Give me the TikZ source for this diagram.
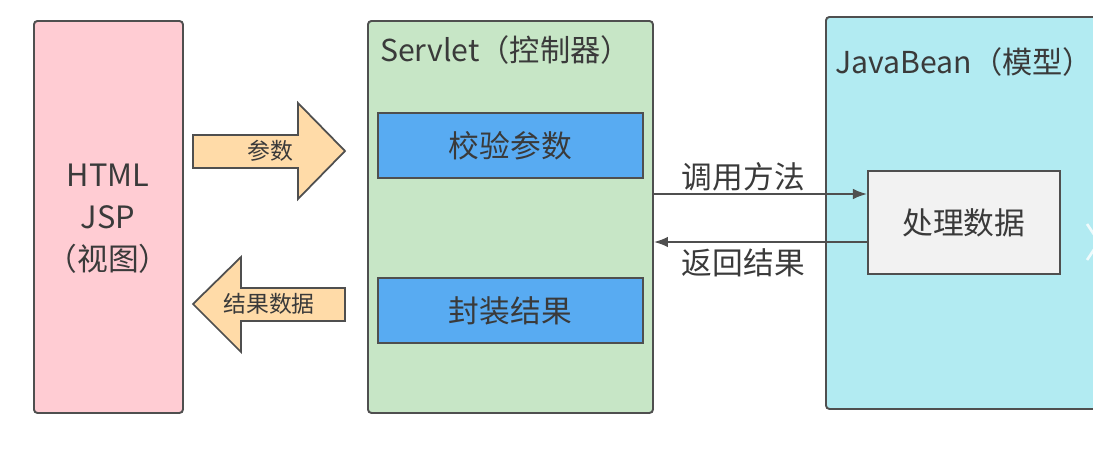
\documentclass[tikz,border=0pt]{standalone}
\usepackage{fontspec}
\setmainfont{Noto Sans CJK SC}
\usetikzlibrary{positioning}

\definecolor{viewpink}{HTML}{FFCCD3}
\definecolor{ctrlgreen}{HTML}{C7E6C6}
\definecolor{stepblue}{HTML}{58ABF2}
\definecolor{modelcyan}{HTML}{B2EBF2}
\definecolor{procgray}{HTML}{F2F2F2}
\definecolor{flowpeach}{HTML}{FFDBA8}
\definecolor{edgegray}{HTML}{4F4F4F}
\definecolor{textgray}{HTML}{3A3A3A}

\tikzset{
  box/.style={draw=edgegray, line width=1.1pt, rounded corners=2pt, anchor=north west, inner sep=0pt},
  stepbox/.style={draw=edgegray, line width=1pt, fill=stepblue, anchor=north west, inner sep=0pt,
    minimum width=265*0.02cm, minimum height=65*0.02cm, font=\fontsize{17.5}{20}\selectfont, text=textgray},
  flow/.style={draw=edgegray, line width=1pt, fill=flowpeach, line join=miter},
  callline/.style={draw=edgegray, line width=1pt, -{Latex[length=8pt,width=6pt]}},
  big/.style={font=\fontsize{17.5}{21}\selectfont, text=textgray},
  small/.style={font=\fontsize{13}{15}\selectfont, text=textgray}
}
\usetikzlibrary{arrows.meta}

\begin{document}
\begin{tikzpicture}[x=0.02cm,y=-0.02cm]
            \useasboundingbox (0,0) rectangle (1093,450);
            \clip (0,0) rectangle (1093,450);
            % Vista
            \node[box, fill=viewpink, minimum width=149*0.02cm, minimum height=392*0.02cm] (view) at (33,20) {};
            \node[big, align=center] (viewtext) at (108,219) {HTML\\[3pt]JSP\\[3pt]（视图）};
            % Controlador
            \node[box, fill=ctrlgreen, minimum width=285*0.02cm, minimum height=392*0.02cm] (ctrl) at (367,20) {};
            \node[big, anchor=west, font=\fontsize{17.2}{20}\selectfont] (ctrltitle) at (374,50) {Servlet（控制器）};
            \node[stepbox] (check) at (377,112) {校验参数};
            \node[stepbox] (pack) at (377,277) {封装结果};
            % Modelo
            \node[box, fill=modelcyan, minimum width=300*0.02cm, minimum height=392*0.02cm] (model) at (825,16) {};
            \node[big, anchor=west, font=\fontsize{17.2}{20}\selectfont] (modeltitle) at (829,62) {JavaBean（模型）};
            \node[box, rounded corners=0pt, fill=procgray, minimum width=192*0.02cm, minimum height=103*0.02cm] (proc) at (867,170) {};
            \node[big] (proctext) at (proc.center) {处理数据};
            \draw[white, line width=1.5pt, opacity=0.8] (1087,224) -- (1099,242) -- (1087,260);
            % Flechas gruesas
            \draw[flow] (193,135) -- (298,135) -- (298,103) -- (345,151) -- (298,199) -- (298,168) -- (193,168) -- cycle;
            \node[small] (params) at (270,151) {参数};
            \draw[flow] (345,288) -- (241,288) -- (241,257) -- (193,304) -- (241,352) -- (241,321) -- (345,321) -- cycle;
            \node[small] (result) at (269,304) {结果数据};
            % Llamadas
            \coordinate (callstart) at (ctrl.east |- 0,194);
            \coordinate (backend) at (ctrl.east |- 0,242);
            \draw[callline] (callstart) -- (proc.west |- callstart) node[pos=0.42, above=-2pt, big] (calltext) {调用方法};
            \draw[callline] (proc.west |- backend) -- (backend) node[pos=0.58, below=0pt, big] (backtext) {返回结果};
        \end{tikzpicture}
\end{document}
